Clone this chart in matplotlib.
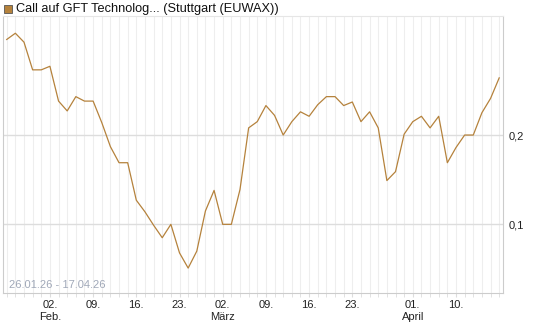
import numpy as np
import matplotlib.pyplot as plt
from matplotlib.patches import Rectangle

plt.rcParams['font.family'] = ['Liberation Sans', 'DejaVu Sans']

# trading days 26.01.26 - 17.04.26 (without Good Friday / Easter Monday)
kurs = [0.307, 0.314, 0.304, 0.273, 0.273, 0.277, 0.238, 0.227, 0.243, 0.238,
        0.238, 0.214, 0.187, 0.169, 0.169, 0.127, 0.114, 0.099, 0.085, 0.100,
        0.068, 0.051, 0.070, 0.115, 0.138, 0.100, 0.100, 0.139, 0.208, 0.215,
        0.233, 0.222, 0.200, 0.215, 0.226, 0.221, 0.234, 0.243, 0.243, 0.233,
        0.237, 0.215, 0.226, 0.208, 0.149, 0.159, 0.201, 0.215, 0.221, 0.208,
        0.221, 0.169, 0.186, 0.200, 0.200, 0.225, 0.241, 0.264]
tick_pos = [5, 10, 15, 20, 25, 30, 35, 40, 47, 52]
tick_lab = ["02.\nFeb.", "09.", "16.", "23.", "02.\nMärz", "09.", "16.", "23.",
            "01.\nApril", "10."]
y_ticks = [0.1, 0.2]
y_lab = ["0,1", "0,2"]

fig = plt.figure(figsize=(5.45, 3.27), dpi=100)
ax = fig.add_axes([3/545, 34/327, 500/545, 277/327])

x = np.arange(len(kurs))
ax.plot(x, kurs, color='#b5823c', lw=0.9, zorder=3)

ax.set_xlim(-0.43, 57.44)
ax.set_ylim(0.0231, 0.3333)

ax.set_xticks(x, minor=True)
ax.set_xticks(tick_pos)
ax.set_xticklabels(tick_lab, fontsize=8, color='#222222', linespacing=1.25)
ax.set_yticks(y_ticks)
ax.set_yticklabels(y_lab, fontsize=8, color='#222222')
ax.yaxis.tick_right()

ax.grid(True, which='minor', axis='x', color='#eeeeee', lw=0.8, zorder=0)
ax.grid(True, which='major', axis='x', color='#eeeeee', lw=0.8, zorder=0)
ax.grid(True, which='major', axis='y', color='#dddddd', lw=1.0, zorder=0)

ax.tick_params(axis='x', which='both', length=3, color='#dddddd', pad=2)
ax.tick_params(axis='y', which='both', length=0, pad=4)

for s in ['left', 'right', 'bottom']:
    ax.spines[s].set_color('#cccccc')
ax.spines['top'].set_color('#e6e6e6')

ax.text(0.012, 0.012, "26.01.26 - 17.04.26", transform=ax.transAxes,
        fontsize=8, color='#a0a8b8', ha='left', va='bottom')

fig.patches.append(Rectangle((4/545, 1 - 13/327), 8/545, 8/327,
                             transform=fig.transFigure, facecolor='#b5823c',
                             edgecolor='#555555', lw=0.6))
fig.text(16/545, 1 - 9/327, "Call auf GFT Technolog... (Stuttgart (EUWAX))",
         fontsize=9.2, color='#111111', ha='left', va='center')

fig.savefig("out.png", dpi=100)
